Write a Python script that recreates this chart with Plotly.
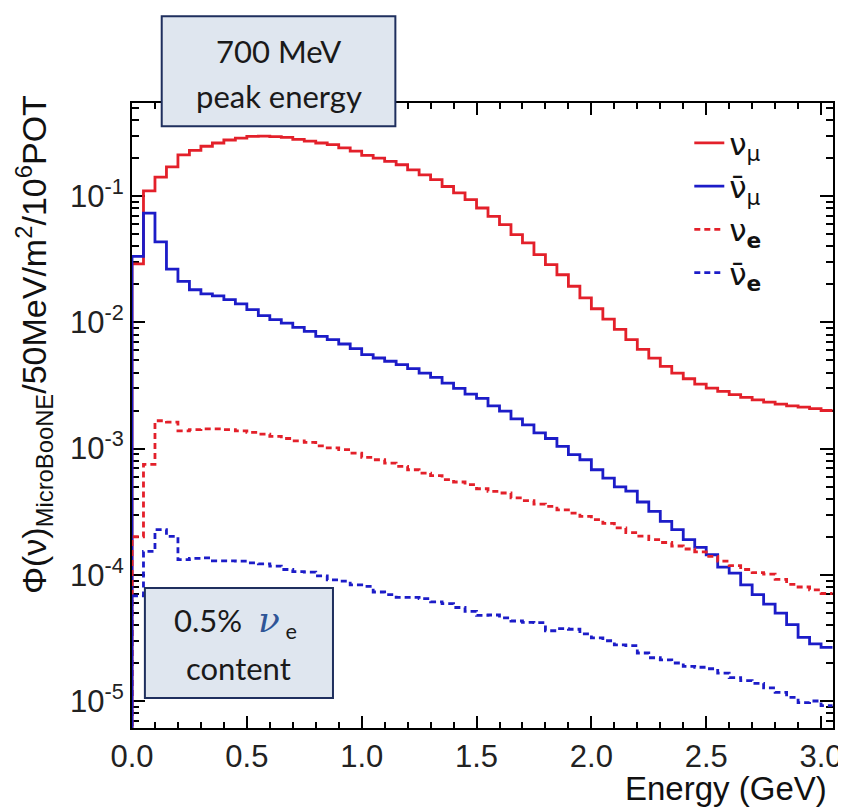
import plotly.graph_objects as go

# ---------------- data (50 MeV bins starting at 0 GeV) ----------------
BIN_WIDTH_GEV = 0.05

NUMU = [0.029, 0.110, 0.141, 0.170, 0.212, 0.230, 0.248, 0.263, 0.278, 0.288,
        0.297, 0.298, 0.296, 0.292, 0.281, 0.272, 0.263, 0.255, 0.241, 0.227,
        0.210, 0.200, 0.188, 0.177, 0.161, 0.147, 0.135, 0.119, 0.106, 0.0935,
        0.0804, 0.069, 0.0593, 0.0494, 0.0425, 0.0343, 0.0286, 0.0238, 0.0193, 0.0156,
        0.0128, 0.0106, 0.0088, 0.0073, 0.0061, 0.0052, 0.00448, 0.00396, 0.00357, 0.00324,
        0.00301, 0.00284, 0.00267, 0.00254, 0.00243, 0.00233, 0.00225, 0.00218, 0.00213, 0.00207,
        0.00200]

NUMUBAR = [0.0333, 0.0733, 0.0433, 0.0264, 0.0211, 0.0181, 0.0168, 0.0162, 0.0151, 0.0140,
           0.0126, 0.0113, 0.0105, 0.00986, 0.00912, 0.00848, 0.00774, 0.00728, 0.00673, 0.00618,
           0.00554, 0.00521, 0.00491, 0.00462, 0.00429, 0.00396, 0.00366, 0.00330, 0.00300, 0.00270,
           0.00250, 0.00218, 0.00198, 0.00172, 0.00154, 0.00133, 0.00120, 0.00104, 0.000893, 0.000815,
           0.000679, 0.000583, 0.000497, 0.000460, 0.000377, 0.000318, 0.000265, 0.000228, 0.000190, 0.000165,
           0.000144, 0.000115, 0.000103, 0.0000830, 0.0000695, 0.0000586, 0.0000497, 0.0000402, 0.0000319, 0.0000283,
           0.0000266]

NUE = [2.0e-4, 7.5e-4, 1.66e-3, 1.62e-3, 1.38e-3, 1.41e-3, 1.43e-3, 1.43e-3, 1.41e-3, 1.38e-3,
       1.34e-3, 1.30e-3, 1.25e-3, 1.20e-3, 1.15e-3, 1.12e-3, 1.05e-3, 1.01e-3, 9.8e-4, 9.2e-4,
       8.5e-4, 8.15e-4, 7.67e-4, 7.22e-4, 6.79e-4, 6.39e-4, 6.1e-4, 5.66e-4, 5.43e-4, 5.17e-4,
       4.80e-4, 4.58e-4, 4.44e-4, 4.06e-4, 3.86e-4, 3.63e-4, 3.48e-4, 3.27e-4, 3.08e-4, 2.90e-4,
       2.73e-4, 2.55e-4, 2.35e-4, 2.16e-4, 2.02e-4, 1.90e-4, 1.80e-4, 1.69e-4, 1.60e-4, 1.52e-4,
       1.40e-4, 1.28e-4, 1.18e-4, 1.10e-4, 1.04e-4, 1.01e-4, 9.2e-5, 8.4e-5, 8.0e-5, 7.6e-5,
       7.1e-5]

NUEBAR = [6.8e-5, 1.53e-4, 2.28e-4, 2.01e-4, 1.32e-4, 1.35e-4, 1.36e-4, 1.29e-4, 1.29e-4, 1.28e-4,
          1.24e-4, 1.22e-4, 1.17e-4, 1.10e-4, 1.06e-4, 1.05e-4, 9.8e-5, 9.1e-5, 8.9e-5, 8.3e-5,
          8.1e-5, 7.3e-5, 6.95e-5, 6.63e-5, 6.63e-5, 6.46e-5, 6.1e-5, 5.9e-5, 5.5e-5, 5.13e-5,
          4.76e-5, 4.8e-5, 4.55e-5, 4.3e-5, 4.2e-5, 4.17e-5, 3.6e-5, 3.74e-5, 3.7e-5, 3.40e-5,
          3.16e-5, 3.0e-5, 2.78e-5, 2.75e-5, 2.40e-5, 2.2e-5, 2.12e-5, 2.0e-5, 1.88e-5, 1.85e-5,
          1.8e-5, 1.66e-5, 1.53e-5, 1.45e-5, 1.38e-5, 1.27e-5, 1.17e-5, 1.07e-5, 9.7e-6, 1.0e-5,
          9.2e-6]

BAR_NU = "ν\u0304"
SERIES_NAMES = ["ν<sub>μ</sub>", BAR_NU + "<sub>μ</sub>", "ν<sub><b>e</b></sub>", BAR_NU + "<sub><b>e</b></sub>"]

X_TICK_VALUES = [0.0, 0.5, 1.0, 1.5, 2.0, 2.5, 3.0]
X_TICK_TEXT = ["0.0", "0.5", "1.0", "1.5", "2.0", "2.5", "3.0"]
Y_TICK_VALUES = [1e-5, 1e-4, 1e-3, 1e-2, 1e-1]
Y_TICK_TEXT = ["10<sup>-5</sup>", "10<sup>-4</sup>", "10<sup>-3</sup>", "10<sup>-2</sup>", "10<sup>-1</sup>"]

# ---------------- styling ----------------
RED = "#e3202a"
BLUE = "#1c1cc8"
FLOOR = 1e-9  # histogram outline starts from below the visible axis
FONT = "Liberation Sans, Arial, sans-serif"
BOX_FONT = "Lato, Open Sans, sans-serif"


def step_xy(values):
    n = len(values)
    edges = [round(i * BIN_WIDTH_GEV, 4) for i in range(n + 1)]
    x = [edges[0]] + edges
    y = [FLOOR] + list(values) + [values[-1]]
    return x, y


fig = go.Figure()
styles = [
    (NUMU, RED, "solid"),
    (NUMUBAR, BLUE, "solid"),
    (NUE, RED, "6px,4px"),
    (NUEBAR, BLUE, "6px,4px"),
]
for name, (vals, col, dash) in zip(SERIES_NAMES, styles):
    x, y = step_xy(vals)
    fig.add_trace(go.Scatter(
        x=x, y=y, mode="lines", name=name, legendgroup=name,
        line=dict(color=col, width=2.8, dash=dash, shape="hv"),
    ))

fig.update_layout(
    width=846, height=807, autosize=False,
    margin=dict(l=124, r=14, t=95, b=87),
    paper_bgcolor="white", plot_bgcolor="white",
    font=dict(family=FONT, color="#111111"),
    showlegend=True,
    legend=dict(
        x=0.795, y=0.979, xanchor="left", yanchor="top",
        bgcolor="rgba(0,0,0,0)", borderwidth=0,
        font=dict(family="DejaVu Sans, sans-serif", size=31, color="#111111"),
        tracegroupgap=0, itemwidth=30,
    ),
)

fig.update_xaxes(
    range=[0, 3.052], showgrid=False, zeroline=False,
    showline=True, linecolor="black", linewidth=2, mirror="allticks",
    ticks="inside", ticklen=12, tickwidth=1.5, tickcolor="black",
    tickmode="array", tickvals=X_TICK_VALUES, ticktext=X_TICK_TEXT,
    tickfont=dict(family=FONT, size=31, color="#222222"),
    minor=dict(ticks="inside", ticklen=6, tickwidth=1.5, tickcolor="black", tick0=0, dtick=0.1),
    layer="below traces",
)
fig.update_yaxes(
    type="log", range=[-5.214, -0.263], showgrid=False, zeroline=False,
    showline=True, linecolor="black", linewidth=2, mirror="allticks",
    ticks="inside", ticklen=13, tickwidth=1.5, tickcolor="black",
    tickmode="array", tickvals=Y_TICK_VALUES, ticktext=Y_TICK_TEXT,
    tickfont=dict(family=FONT, size=31, color="#222222"),
    minor=dict(ticks="inside", ticklen=7, tickwidth=1.5, tickcolor="black", dtick="D1"),
    layer="below traces",
)

# axis titles
fig.add_annotation(
    text="Φ(ν)<sub>MicroBooNE</sub>/50MeV/m<sup>2</sup>/10<sup>6</sup>POT",
    xref="paper", yref="paper", x=-0.14, y=0.614, xanchor="center", yanchor="middle",
    textangle=-90, showarrow=False, font=dict(family=FONT, size=34, color="#111111"),
)
fig.add_annotation(
    text="Energy (GeV)", xref="paper", yref="paper", x=0.994, y=-0.096,
    xanchor="right", yanchor="middle", showarrow=False,
    font=dict(family=FONT, size=33, color="#111111"),
)

# callout boxes
BOX_FILL = "#dfe6ef"
BOX_LINE = "#1f2f5e"
fig.add_shape(type="rect", xref="paper", yref="paper", x0=0.0424, x1=0.3757, y0=0.963, y1=1.139,
              fillcolor=BOX_FILL, line=dict(color=BOX_LINE, width=2), layer="above")
fig.add_annotation(text="700 MeV", xref="paper", yref="paper", x=0.209, y=1.083,
                   xanchor="center", yanchor="middle", showarrow=False,
                   font=dict(family=BOX_FONT, size=31, color="#1a1a1a"))
fig.add_annotation(text="peak energy", xref="paper", yref="paper", x=0.209, y=1.011,
                   xanchor="center", yanchor="middle", showarrow=False,
                   font=dict(family=BOX_FONT, size=31, color="#1a1a1a"))

fig.add_shape(type="rect", xref="paper", yref="paper", x0=0.0184, x1=0.2867, y0=0.048, y1=0.224,
              fillcolor=BOX_FILL, line=dict(color=BOX_LINE, width=2), layer="above")
fig.add_annotation(
    text="0.5%  <span style='color:#2f5597;font-family:DejaVu Serif;font-size:36px'><i>ν</i></span><sub> e</sub>",
    xref="paper", yref="paper", x=0.148, y=0.171, xanchor="center", yanchor="middle",
    showarrow=False, font=dict(family=BOX_FONT, size=31, color="#1a1a1a"))
fig.add_annotation(text="content", xref="paper", yref="paper", x=0.152, y=0.096,
                   xanchor="center", yanchor="middle", showarrow=False,
                   font=dict(family=BOX_FONT, size=31, color="#1a1a1a"))

fig.write_html("out.html")
